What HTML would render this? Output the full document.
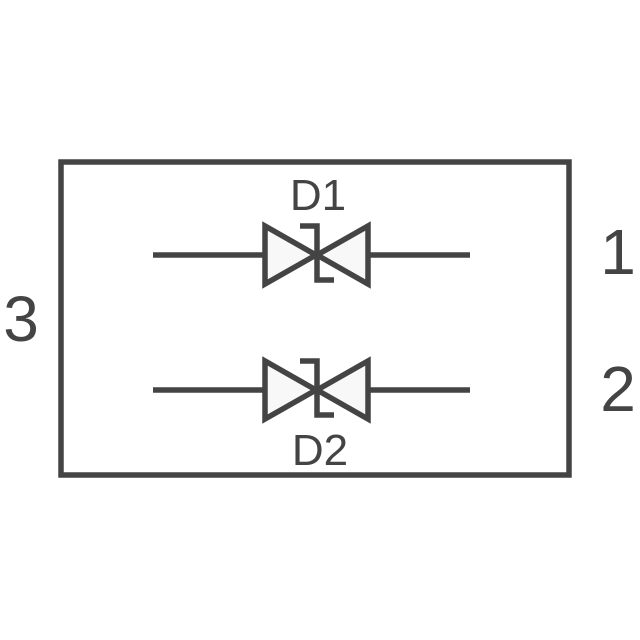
<!DOCTYPE html><html><head><style>body{margin:0;background:#fff}</style></head><body>
<svg width="640" height="640" xmlns="http://www.w3.org/2000/svg" style="display:block">
<g stroke="#444" stroke-width="5.5" fill="none" stroke-linejoin="miter">
<rect x="61" y="162" width="508" height="313"/>
<line x1="153" y1="255" x2="265" y2="255"/><line x1="368" y1="255" x2="470" y2="255"/>
<line x1="153" y1="390" x2="265" y2="390"/><line x1="368" y1="390" x2="470" y2="390"/>
<polygon points="265,226 265,284 316,255" fill="#f8f8f8"/>
<polygon points="368,226 368,284 317,255" fill="#f8f8f8"/>
<polyline points="300,226 317,226 317,280 334,280"/>
<polygon points="265,361 265,419 316,390" fill="#f8f8f8"/>
<polygon points="368,361 368,419 317,390" fill="#f8f8f8"/>
<polyline points="300,361 317,361 317,415 334,415"/>
</g>
<g font-family="Liberation Sans, sans-serif" fill="#444">
<text x="318" y="210" font-size="44" text-anchor="middle">D1</text>
<text x="320" y="465" font-size="44" text-anchor="middle">D2</text>
<text x="618" y="274" font-size="64" text-anchor="middle">1</text>
<text x="618" y="411" font-size="64" text-anchor="middle">2</text>
<text x="21" y="341" font-size="64" text-anchor="middle">3</text>
</g>
</svg></body></html>
